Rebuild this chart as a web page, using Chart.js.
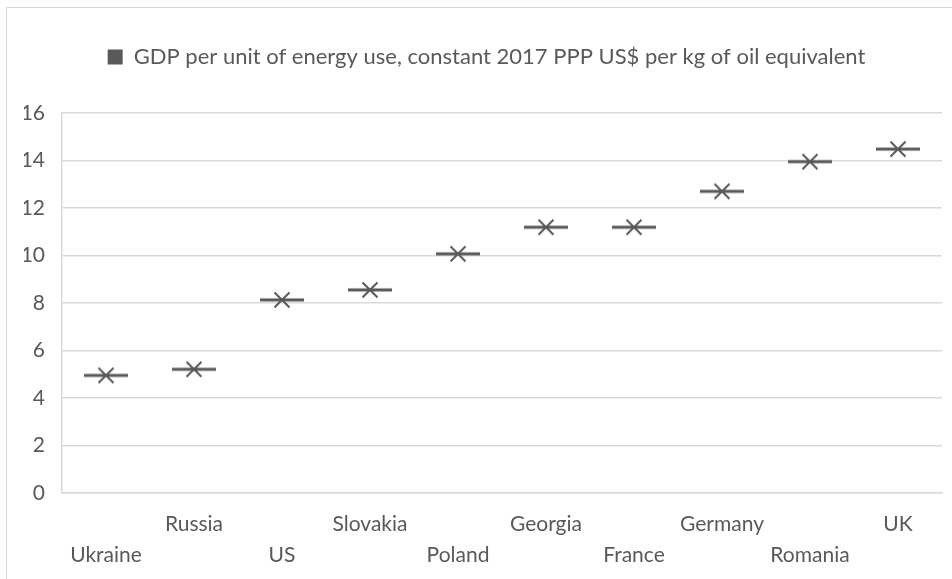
<!DOCTYPE html>
<html>
<head>
<meta charset="utf-8">
<script src="https://cdn.jsdelivr.net/npm/chart.js@4/dist/chart.umd.min.js"></script>
<style>
  html, body { margin: 0; padding: 0; background: #fff; overflow: hidden; }
  #wrap { position: relative; width: 952px; height: 579px; }
</style>
</head>
<body>
<div id="wrap"><canvas id="c" width="952" height="579"></canvas></div>
<script>
// Categories and values
const countries = ['Ukraine', 'Russia', 'US', 'Slovakia', 'Poland', 'Georgia', 'France', 'Germany', 'Romania', 'UK'];
const gdpPerEnergy = [4.95, 5.21, 8.13, 8.55, 10.07, 11.19, 11.19, 12.70, 13.95, 14.48];
const yTickValues = [0, 2, 4, 6, 8, 10, 12, 14, 16];
const seriesLabel = 'GDP per unit of energy use, constant 2017 PPP US$ per kg of oil equivalent';

const INK = '#595959';
const GRID = '#d9d9d9';
const FONT = 'Lato, "Noto Sans", sans-serif';

// Marker: a long horizontal dash with an X through its middle
function makeMarker() {
  const c = document.createElement('canvas');
  c.width = 46; c.height = 18;
  const g = c.getContext('2d');
  g.strokeStyle = INK;
  g.lineCap = 'butt';
  g.lineWidth = 3;
  g.beginPath(); g.moveTo(1, 9); g.lineTo(45, 9); g.stroke();
  g.lineWidth = 2;
  g.beginPath();
  g.moveTo(15.5, 1.5); g.lineTo(30.5, 16.5);
  g.moveTo(30.5, 1.5); g.lineTo(15.5, 16.5);
  g.stroke();
  return c;
}

// Light frame around the chart and white backdrop
const frame = {
  id: 'frame',
  beforeDraw(chart) {
    const ctx = chart.ctx;
    ctx.save();
    ctx.fillStyle = '#fff';
    ctx.fillRect(0, 0, chart.width, chart.height);
    ctx.strokeStyle = GRID;
    ctx.lineWidth = 1;
    ctx.strokeRect(6.5, 7.5, chart.width + 20, chart.height + 20);
    ctx.restore();
  }
};

// Extra space below the legend
const legendGap = {
  id: 'legendGap',
  beforeInit(chart) {
    const fit = chart.legend.fit;
    chart.legend.fit = function () {
      fit.bind(chart.legend)();
      this.height += 35;
    };
  }
};

new Chart(document.getElementById('c'), {
  type: 'line',
  data: {
    labels: countries,
    datasets: [{
      label: seriesLabel,
      data: gdpPerEnergy,
      showLine: false,
      pointStyle: makeMarker(),
      pointRadius: 10,
      pointHoverRadius: 10,
      backgroundColor: INK,
      borderColor: INK,
      borderWidth: 0
    }]
  },
  options: {
    responsive: false,
    animation: false,
    events: [],
    layout: { padding: { left: 24, right: 3, top: 36, bottom: 0 } },
    plugins: {
      tooltip: { enabled: false },
      legend: {
        position: 'top',
        labels: {
          boxWidth: 15,
          boxHeight: 15,
          padding: 10,
          color: INK,
          font: { family: FONT, size: 22 }
        }
      }
    },
    scales: {
      x: {
        offset: true,
        grid: { display: false, drawTicks: false },
        border: { display: true, color: GRID, width: 1.5 },
        ticks: {
          autoSkip: false,
          maxRotation: 0,
          minRotation: 0,
          padding: 16,
          color: INK,
          font: { family: FONT, size: 21, lineHeight: 1.48 },
          callback: (v, i) => (i % 2 === 0 ? ['', countries[i]] : [countries[i], ''])
        },
        afterFit(scale) { scale.height = 86; }
      },
      y: {
        min: 0,
        max: 16,
        afterBuildTicks(scale) { scale.ticks = yTickValues.map(v => ({ value: v })); },
        grid: { color: GRID, lineWidth: 1.5, drawTicks: false },
        border: { display: true, color: GRID, width: 1.5 },
        ticks: {
          padding: 17,
          color: INK,
          font: { family: FONT, size: 21 }
        },
        afterFit(scale) { scale.width = 38; }
      }
    }
  },
  plugins: [frame, legendGap]
});
</script>
</body>
</html>
